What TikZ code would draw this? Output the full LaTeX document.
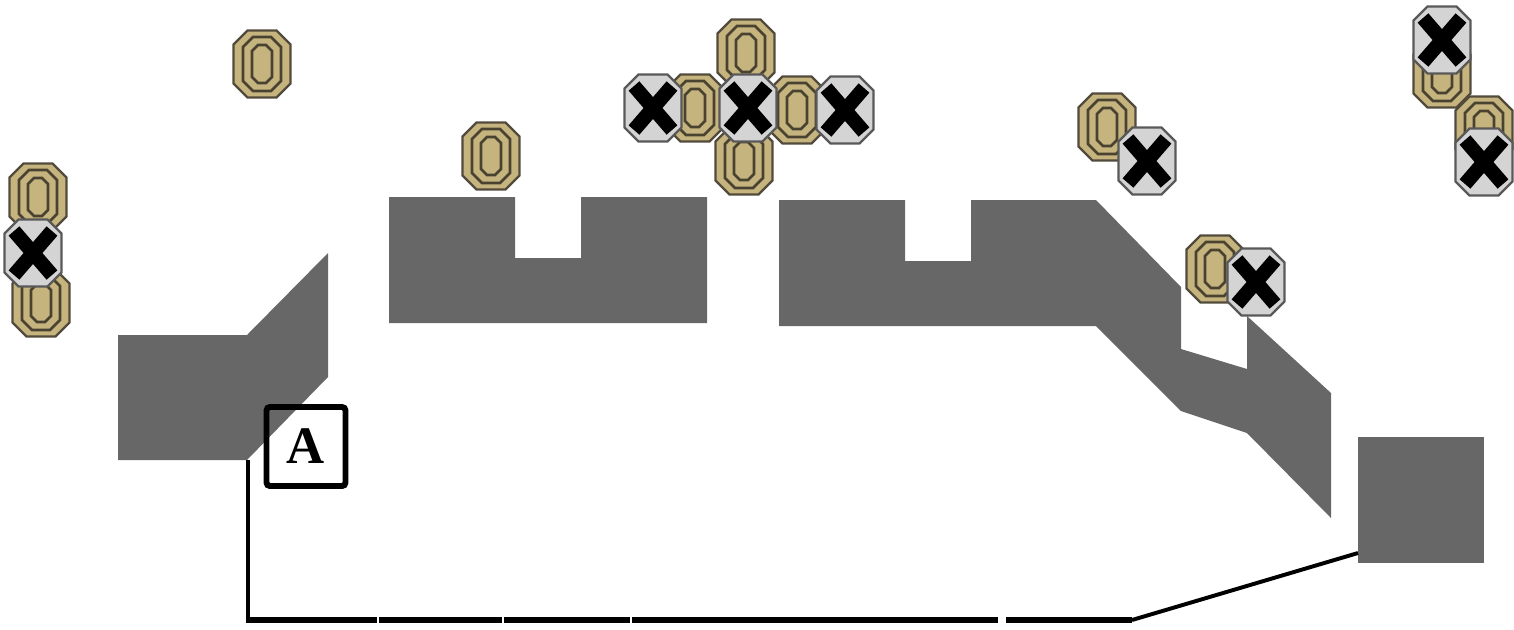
\documentclass[tikz,border=0pt]{standalone}
\usepackage{fontspec}
\setmainfont{Liberation Serif}
\usepackage{xcolor}
\definecolor{wallgray}{HTML}{676767}
\definecolor{ringtan}{HTML}{C6B47E}
\definecolor{ringdark}{HTML}{4A4230}
\definecolor{crossgray}{HTML}{D4D4D4}
\newcommand{\octo}[3]{(-#1,-#2+#3) -- (-#1+#3,-#2) -- (#1-#3,-#2) -- (#1,-#2+#3) -- (#1,#2-#3) -- (#1-#3,#2) -- (-#1+#3,#2) -- (-#1,#2-#3) -- cycle}
\tikzset{
  tanmark/.pic={
    \draw[ringdark!85!gray,fill=ringtan,line width=2.4pt*0.28] \octo{28.5}{33.5}{14};
    \draw[ringdark,line width=2.8pt*0.28] \octo{19}{27}{10};
    \draw[ringdark,line width=2.8pt*0.28] \octo{10}{19}{6};
  },
  xmark/.pic={
    \draw[gray!70!black,fill=crossgray,line width=2.4pt*0.28] \octo{28.5}{33.5}{14};
    \draw[black,line width=14.5pt*0.28] (-19,-22) -- (19,22);
    \draw[black,line width=14.5pt*0.28] (19,-22) -- (-19,22);
  },
  wall/.style={fill=wallgray},
  track/.style={black,line width=6pt*0.28},
  labelbox/.style={draw=black,line width=6pt*0.28,rounded corners=1pt,minimum size=79*0.2845pt,inner sep=0pt}
}
\begin{document}
\begin{tikzpicture}[x=0.01cm,y=-0.01cm]
\useasboundingbox (0,0) rectangle (1514,629);
% walls
\fill[wall] (118,335) -- (247,335) -- (328,253) -- (328,377) -- (247,460) -- (118,460) -- cycle;
\fill[wall] (389,197) -- (515,197) -- (515,258) -- (581,258) -- (581,197) -- (707,197) -- (707,323) -- (389,323) -- cycle;
\fill[wall] (779,200) -- (905,200) -- (905,261) -- (971,261) -- (971,200) -- (1096,200) -- (1181,287) -- (1181,349) -- (1247,369) -- (1247,316) -- (1331,393) -- (1331,518) -- (1247,433) -- (1181,411) -- (1096,326) -- (779,326) -- cycle;
\node[wall,minimum size=126*0.2845pt,inner sep=0pt] (endblock) at (1421,500) {};
% track
\coordinate (t0) at (248,460);
\coordinate (t1) at (248,620);
\coordinate (t2) at (377,620);
\coordinate (t3) at (379,620);
\coordinate (t4) at (502,620);
\coordinate (t5) at (504,620);
\coordinate (t6) at (630,620);
\coordinate (t7) at (632,620);
\coordinate (t8) at (998,620);
\coordinate (t9) at (1006,620);
\coordinate (t10) at (1132,620);
\coordinate (t11) at (1358,553);
\draw[black,line width=4pt*0.28] (t0) -- (t1);
\draw[track] (t1) ++(-2,0) -- (t2);
\draw[track] (t3) -- (t4);
\draw[track] (t5) -- (t6);
\draw[track] (t7) -- (t8);
\draw[track] (t9) -- (t10);
\draw[black,line width=4pt*0.28] (t10) -- (t11);
\node[labelbox] (boxA) at (306,446.5) {\fontsize{15}{15}\selectfont\bfseries A};
% marks
\pic at (262,64) {tanmark};
\pic at (491,156) {tanmark};
\pic at (38,197) {tanmark};
\pic at (41,303) {tanmark};
\pic at (695,108) {tanmark};
\pic at (746,53) {tanmark};
\pic at (744,161) {tanmark};
\pic at (797,110) {tanmark};
\pic at (1107,127) {tanmark};
\pic at (1215,269) {tanmark};
\pic at (1442,74) {tanmark};
\pic at (1484,130) {tanmark};
\pic at (33,253) {xmark};
\pic at (653,108) {xmark};
\pic at (845,110) {xmark};
\pic at (748,108) {xmark};
\pic at (1147,161) {xmark};
\pic at (1256,282) {xmark};
\pic at (1442,40) {xmark};
\pic at (1484,162) {xmark};
\end{tikzpicture}
\end{document}
